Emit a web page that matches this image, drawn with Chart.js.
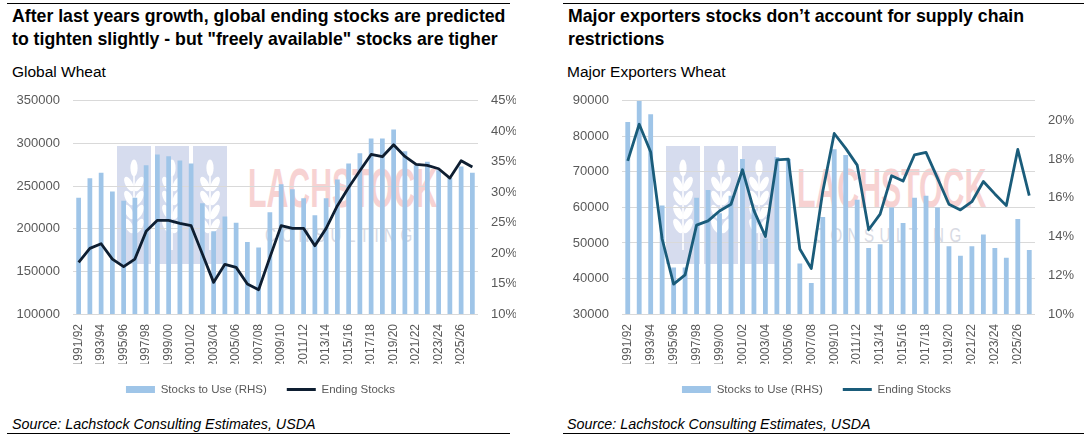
<!DOCTYPE html>
<html><head><meta charset="utf-8">
<script src="https://cdn.jsdelivr.net/npm/chart.js@4.4.1/dist/chart.umd.min.js"></script>
<style>
body{margin:0;width:1084px;height:441px;background:#fff;overflow:hidden;position:relative;font-family:"Liberation Sans",Arial,sans-serif;}
.abs{position:absolute;}
.title{font-weight:bold;font-size:17.7px;line-height:23.3px;color:#000;white-space:nowrap;}
.sub{font-size:15.5px;line-height:18px;color:#000;white-space:nowrap;}
.src{font-style:italic;font-size:14.3px;line-height:17px;color:#000;white-space:nowrap;}
.rule{height:0;border-top:1.5px solid #000;}
.box{background:#D6DCEE;width:34px;height:118px;}
.wl{font-weight:bold;color:#F7D2D2;font-size:56px;line-height:56px;transform-origin:left top;transform:scaleX(0.54);white-space:nowrap;}
.wc{color:#D8DAE3;font-size:21px;line-height:21px;letter-spacing:7.6px;transform-origin:left top;transform:scaleX(0.72);white-space:nowrap;}
.chartbox{position:absolute;}
</style></head>
<body>
<div id="wmL"></div>
<div id="wmR"></div>

<div class="abs rule" style="left:7px;top:3px;width:503px"></div>
<div class="abs title" style="left:12px;top:4.5px">After last years growth, global ending stocks are predicted<br>to tighten slightly - but "freely available" stocks are tigher</div>
<div class="abs sub" style="left:12px;top:63px">Global Wheat</div>
<div class="abs src" style="left:12px;top:416px">Source: Lachstock Consulting Estimates, USDA</div>
<div class="abs rule" style="left:7px;top:433px;width:503px"></div>

<div class="abs rule" style="left:563px;top:3px;width:521px"></div>
<div class="abs title" style="left:568px;top:4.5px">Major exporters stocks don’t account for supply chain<br>restrictions</div>
<div class="abs sub" style="left:567px;top:63px">Major Exporters Wheat</div>
<div class="abs src" style="left:567px;top:416px">Source: Lachstock Consulting Estimates, USDA</div>
<div class="abs rule" style="left:563px;top:433px;width:521px"></div>

<div class="chartbox" style="left:0px;top:80px;width:530px;height:332px"><canvas id="c1"></canvas></div>
<div class="chartbox" style="left:548px;top:80px;width:536px;height:332px"><canvas id="c2"></canvas></div>

<script>
const years = ['1991/92','1992/93','1993/94','1994/95','1995/96','1996/97','1997/98','1998/99','1999/00','2000/01',
  '2001/02','2002/03','2003/04','2004/05','2005/06','2006/07','2007/08','2008/09','2009/10','2010/11',
  '2011/12','2012/13','2013/14','2014/15','2015/16','2016/17','2017/18','2018/19','2019/20','2020/21',
  '2021/22','2022/23','2023/24','2024/25','2025/26','2026/27'];

const globalEndingStocks = [160500,177000,182400,164400,155500,164400,196900,209800,209800,206200,
  203500,170300,137100,158200,154700,135200,128500,166400,203500,200400,
  200400,180100,200400,227000,248400,268000,287100,284400,298400,284800,
  275400,274200,270300,259400,279700,272300];
const globalStocksToUse = [29.1,32.3,33.2,30.1,28.6,29.1,34.4,36.2,35.9,35.2,
  34.7,28.2,23.6,26.0,25.0,21.8,20.9,26.7,31.3,30.5,
  29.0,26.2,29.0,32.1,34.7,36.4,38.8,38.8,40.3,36.7,
  34.4,35.0,33.6,32.4,34.2,33.2];

const exportersEndingStocks = [73100,83400,75600,51100,38400,41000,55000,56200,59000,60900,
  70600,59100,51800,73400,73600,48300,42800,64500,80800,76600,
  71900,53700,58100,68900,67400,74800,75500,68250,60900,59300,
  61600,67300,63800,60500,76300,63300];
const exportersStocksToUse = [19.9,21.0,20.3,15.6,12.4,12.4,16.0,16.4,15.2,16.1,
  18.0,15.4,13.9,18.1,18.0,12.6,11.6,15.0,18.5,18.2,
  15.9,13.4,13.6,15.5,14.7,16.0,16.1,15.5,13.5,13.0,
  13.5,14.1,13.4,12.9,14.9,13.3];

const seriesNames = ['Stocks to Use (RHS)', 'Ending Stocks'];

// decorative logo watermark
function wheatSVG(){
  let s = '<svg width="34" height="118" xmlns="http://www.w3.org/2000/svg"><g fill="#fff" stroke="none">';
  s += '<line x1="17" y1="30" x2="17" y2="104" stroke="#fff" stroke-width="1.6"/>';
  s += '<ellipse cx="17" cy="22" rx="3.6" ry="8.5"/>';
  [38,52,66,80].forEach(y=>{
    s += `<ellipse cx="12" cy="${y}" rx="3.6" ry="8" transform="rotate(-28 12 ${y})"/>`;
    s += `<ellipse cx="22" cy="${y}" rx="3.6" ry="8" transform="rotate(28 22 ${y})"/>`;
  });
  s += '</g></svg>';
  return s;
}
function buildWatermark(id, x0){
  const el = document.getElementById(id);
  let h = '';
  [0,38,76].forEach(dx=>{
    h += `<div class="abs box" style="left:${x0+dx}px;top:146px">${wheatSVG()}</div>`;
  });
  h += `<div class="abs wl" style="left:${x0+131}px;top:160px">LACHSTOCK</div>`;
  h += `<div class="abs wc" style="left:${x0+148}px;top:224px">CONSULTING</div>`;
  el.innerHTML = h;
}
buildWatermark('wmL', 117);
buildWatermark('wmR', 666);

const tickFont = {family: '"Liberation Sans", Arial, sans-serif', size: 13};
const xFont = {family: '"Liberation Sans", Arial, sans-serif', size: 12};
const legendFont = {family: '"Liberation Sans", Arial, sans-serif', size: 11.5};
const tickColor = '#595959';
const gridColor = '#D9D9D9';
const barColor = '#9FC5E8';

function makeChart(id, endStocks, stu, lineColor, yCfg, y1Cfg, lay){
  new Chart(document.getElementById(id), {
    data: {
      labels: years,
      datasets: [
        {type:'line', label: seriesNames[1], data: endStocks, yAxisID:'y',
         borderColor: lineColor, backgroundColor: lineColor, borderWidth: 2.8,
         pointRadius: 0, pointStyle:'line', tension: 0, borderJoinStyle:'round'},
        {type:'bar', label: seriesNames[0], data: stu, yAxisID:'y1',
         backgroundColor: barColor, borderWidth: 0, pointStyle:'rect',
         barPercentage: 0.42, categoryPercentage: 1}
      ]
    },
    options: {
      responsive: true, maintainAspectRatio: false, animation: false,
      layout: {padding: lay.pad},
      plugins: {
        tooltip: {enabled:false},
        legend: {
          position: 'bottom',
          labels: {
            usePointStyle: true, pointStyleWidth: 29, boxHeight: 7,
            font: legendFont, color: tickColor, padding: 20,
            sort: (a,b) => b.datasetIndex - a.datasetIndex
          }
        }
      },
      scales: {
        x: {
          grid: {display:false, drawTicks:false},
          border: {display:false},
          ticks: {font: xFont, color: tickColor, autoSkip:false, maxRotation:90, minRotation:90, padding: 10,
                  callback: (v, i) => (i % 2 === 0 ? years[i] : '')},
          afterFit: s => { s.height = lay.xh; }
        },
        y: {
          position:'left', min: yCfg.min, max: yCfg.max,
          grid: {color: gridColor, lineWidth: 1, drawTicks:false},
          border: {display:false},
          ticks: {stepSize: yCfg.step, font: tickFont, color: tickColor, padding: 13,
                  callback: v => String(v)},
          afterFit: s => { s.width = lay.yw; }
        },
        y1: {
          position:'right', min: y1Cfg.min, max: y1Cfg.max,
          grid: {display:false, drawTicks:false},
          border: {display:false},
          ticks: {stepSize: y1Cfg.step, includeBounds:false, font: tickFont, color: tickColor, padding: 13,
                  callback: v => v + '%'},
          afterFit: s => { s.width = lay.y1w; }
        }
      }
    }
  });
}

makeChart('c1', globalEndingStocks, globalStocksToUse, '#0E1E31',
  {min:100000, max:350000, step:50000}, {min:10, max:45, step:5},
  {pad: {left: 5, right: 14, top: 6, bottom: 6.75}, xh: 49.75, yw: 68, y1w: 38});
makeChart('c2', exportersEndingStocks, exportersStocksToUse, '#1A5C7A',
  {min:30000, max:90000, step:10000}, {min:10, max:21, step:2},
  {pad: {left: 11, right: 10, top: 6, bottom: 6.75}, xh: 49.75, yw: 63, y1w: 39});
</script>
</body></html>
